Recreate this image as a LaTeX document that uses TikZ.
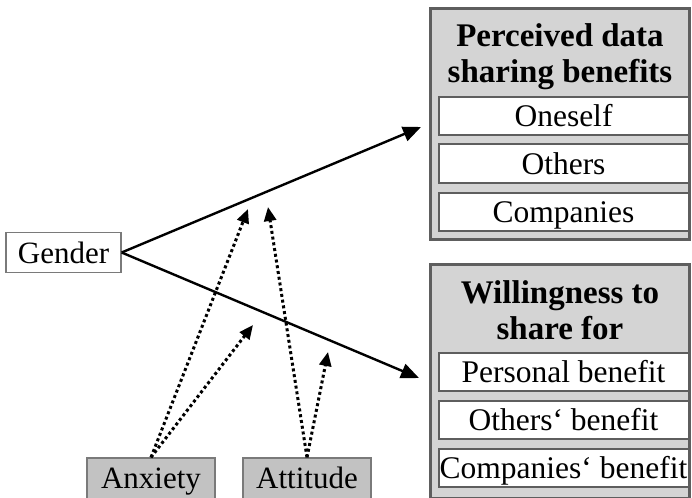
\documentclass[tikz,border=0pt]{standalone}
\usepackage{fontspec}
\setmainfont{Liberation Serif}
\usetikzlibrary{arrows.meta}
\definecolor{boxfill}{HTML}{D4D4D4}
\definecolor{boxline}{HTML}{5E5E5E}
\definecolor{smallfill}{HTML}{C2C2C2}
\definecolor{smallline}{HTML}{7A7A7A}
\tikzset{
  outerbox/.style={draw=boxline, fill=boxfill, line width=3pt, minimum width=259pt, inner sep=0pt},
  itembox/.style={draw=boxline, fill=white, line width=2pt, minimum width=250pt, minimum height=38pt, inner sep=0pt, text height=24pt, text depth=3pt, font=\fontsize{31.5}{36}\selectfont},
  headtext/.style={font=\fontsize{33}{36}\selectfont\bfseries, align=center, inner sep=0pt},
  genderbox/.style={draw=smallline, fill=white, line width=1.3pt, minimum width=115pt, minimum height=40pt, inner sep=0pt, text height=24pt, text depth=3pt, font=\fontsize{31}{36}\selectfont},
  modbox/.style={draw=smallline, fill=smallfill, line width=1.3pt, minimum width=128pt, minimum height=44pt, inner sep=0pt, text height=22pt, text depth=5pt, font=\fontsize{31}{36}\selectfont},
  mainarrow/.style={line width=2.4pt, -{Triangle[length=18pt,width=15pt]}},
  modarrow/.style={line width=3pt, dash pattern=on 3pt off 2.8pt, -{Triangle[length=14pt,width=12pt]}}
}
\begin{document}
\begin{tikzpicture}[x=1pt,y=-1pt]
\useasboundingbox (0,0) rectangle (692,497);
% outer boxes
\node[outerbox, minimum height=231pt] (top) at (560,124) {};
\node[outerbox, minimum height=234pt] (bot) at (560,381) {};
% headings
\node[headtext] (toph) at (560,57) {Perceived data\\sharing benefits};
\node[headtext] (both) at (560,310) {Willingness to\\share for};
% items
\node[itembox] (i1) at (563.5,116) {Oneself};
\node[itembox] (i2) at (563.5,163.5) {Others};
\node[itembox] (i3) at (563.5,212) {Companies};
\node[itembox] (j1) at (563.5,371.5) {Personal benefit};
\node[itembox] (j2) at (563.5,419.5) {Others‘ benefit};
\node[itembox] (j3) at (563.5,468) {Companies‘ benefit};
% left nodes
\node[genderbox] (gender) at (63.5,252.5) {Gender};
\node[modbox] (anx) at (151,480) {Anxiety};
\node[modbox] (att) at (307,480) {Attitude};
% arrow ends
\coordinate (t1) at (421,127);
\coordinate (t2) at (419,378);
\coordinate (m1) at (248,209);
\coordinate (m2) at (253,325);
\coordinate (m3) at (268,207);
\coordinate (m4) at (328,352);
\draw[mainarrow] (gender.east) -- (t1);
\draw[mainarrow] (gender.east) -- (t2);
\draw[modarrow] (anx.north) -- (m1);
\draw[modarrow] (anx.north) -- (m2);
\draw[modarrow] (att.north) -- (m3);
\draw[modarrow] (att.north) -- (m4);
\end{tikzpicture}
\end{document}
